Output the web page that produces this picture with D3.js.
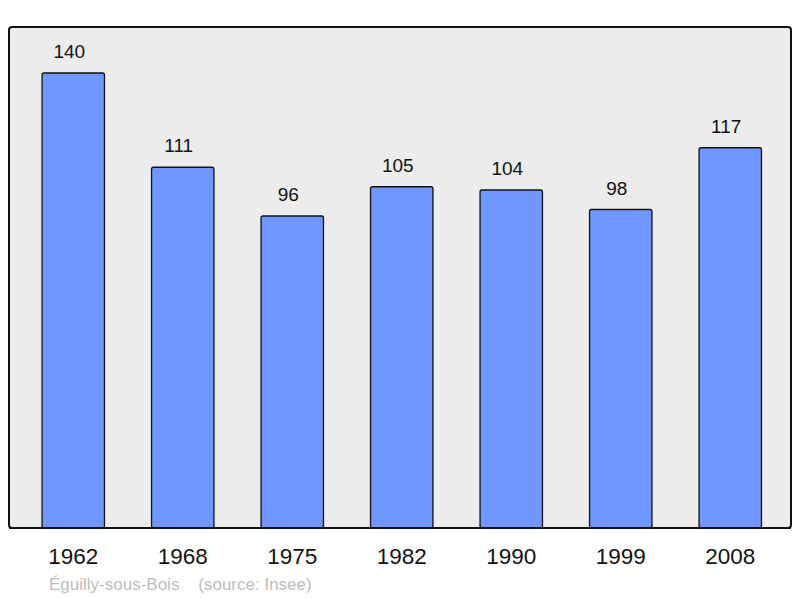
<!DOCTYPE html>
<html>
<head>
<meta charset="utf-8">
<script src="https://cdn.jsdelivr.net/npm/d3@7"></script>
<style>
  body { margin: 0; background: #fff; }
  svg { display: block; font-family: "Liberation Sans", Arial, sans-serif; }
</style>
</head>
<body>
<div id="chart"></div>
<script>
const years = ['1962', '1968', '1975', '1982', '1990', '1999', '2008'];
const population = [140, 111, 96, 105, 104, 98, 117];

const width = 800;
const height = 598;
const panel = { left: 9, top: 27, right: 791, bottom: 528 };

const svg = d3.select('#chart')
    .append('svg')
    .attr('width', width)
    .attr('height', height);

svg.append('rect')
    .attr('x', panel.left)
    .attr('y', panel.top)
    .attr('width', panel.right - panel.left)
    .attr('height', panel.bottom - panel.top)
    .attr('rx', 3)
    .attr('fill', '#ececec')
    .attr('stroke', '#111')
    .attr('stroke-width', 2);

const x = d3.scaleBand()
    .domain(years)
    .range([18.5, 785])
    .paddingInner(0.43)
    .paddingOuter(0.215);

// 140 -> bar top at y=73
const y = d3.scaleLinear()
    .domain([0, 140])
    .range([panel.bottom, 73]);

const data = years.map((yr, i) => ({ year: yr, value: population[i] }));

svg.append('g')
    .selectAll('rect')
    .data(data)
    .enter()
    .append('rect')
    .attr('x', d => x(d.year))
    .attr('y', d => y(d.value))
    .attr('width', x.bandwidth())
    .attr('height', d => panel.bottom - y(d.value))
    .attr('rx', 2)
    .attr('fill', '#7097ff')
    .attr('stroke', '#111')
    .attr('stroke-width', 1.3);

// value labels
svg.append('g')
    .selectAll('text')
    .data(data)
    .enter()
    .append('text')
    .attr('x', d => x(d.year) + x.bandwidth() / 2 - 4)
    .attr('y', d => y(d.value) - 15)
    .attr('text-anchor', 'middle')
    .style('font-size', '19px')
    .attr('fill', '#111')
    .text(d => d.value);

// redraw panel bottom edge over bars
svg.append('line')
    .attr('x1', panel.left)
    .attr('x2', panel.right)
    .attr('y1', panel.bottom)
    .attr('y2', panel.bottom)
    .attr('stroke', '#111')
    .attr('stroke-width', 2);

// year axis
const xAxis = svg.append('g')
    .attr('transform', `translate(0,${panel.bottom})`)
    .call(d3.axisBottom(x).tickSize(0).tickPadding(0));
xAxis.select('.domain').remove();
xAxis.selectAll('text')
    .attr('y', 36)
    .attr('dy', 0)
    .attr('fill', '#111')
    .style('font-size', '22.5px')
    .style('font-family', '"Liberation Sans", Arial, sans-serif');

svg.append('text')
    .attr('x', 49)
    .attr('y', 590)
    .attr('fill', '#bdbdbd')
    .style('font-size', '17px')
    .attr('xml:space', 'preserve')
    .text('Éguilly-sous-Bois    (source: Insee)');
</script>
</body>
</html>
